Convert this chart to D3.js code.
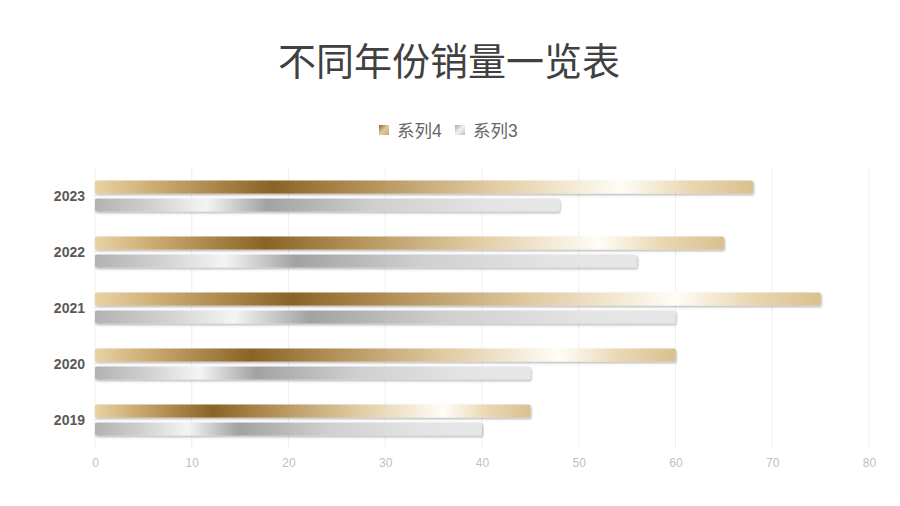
<!DOCTYPE html>
<html><head><meta charset="utf-8">
<script src="https://cdn.jsdelivr.net/npm/d3@7"></script>
<style>html,body{margin:0;padding:0;background:#fff;}svg{display:block;}</style>
</head><body>
<svg id="c" width="900" height="506"></svg>
<script>
const title = "不同年份销量一览表";
const categories = ["2023","2022","2021","2020","2019"];
const seriesNames = ["系列4","系列3"];
const series4 = [68,65,75,60,45];
const series3 = [48,56,60,45,40];
const xTicks = [0,10,20,30,40,50,60,70,80];

const font = "'Liberation Sans','Noto Sans CJK SC',sans-serif";
const svg = d3.select("#c");
const defs = svg.append("defs");

function grad(id, stops, x2, y2){
  const g = defs.append("linearGradient").attr("id", id)
    .attr("x1","0").attr("y1","0").attr("x2", x2||"1").attr("y2", y2||"0");
  stops.forEach(s => g.append("stop").attr("offset", s[0]).attr("stop-color", s[1]));
}
const goldStops = [[0,"#e9d2a3"],[0.1,"#c9a86f"],[0.27,"#8a6326"],[0.4,"#b08d55"],[0.6,"#e0caa0"],[0.8,"#fffdf7"],[0.9,"#ead8b4"],[1,"#d9c08e"]];
const silverStops = [[0,"#b2b2b2"],[0.12,"#d0d0d0"],[0.24,"#f4f4f4"],[0.37,"#a2a2a2"],[0.6,"#cfcfcf"],[0.85,"#e4e4e4"],[1,"#e6e6e6"]];
grad("gold", goldStops);
grad("silver", silverStops);
grad("goldL", [[0,"#8a6326"],[0.5,"#e0c99b"],[1,"#c8a86f"]], "1", "1");
grad("silverL", [[0,"#a5a5a5"],[0.5,"#f2f2f2"],[1,"#bdbdbd"]], "1", "1");

const f = defs.append("filter").attr("id","sh").attr("x","-5%").attr("y","-50%").attr("width","110%").attr("height","200%");
f.append("feDropShadow").attr("dx",1).attr("dy",1.5).attr("stdDeviation",0.8).attr("flood-color","#000").attr("flood-opacity",0.3);

const x = d3.scaleLinear().domain([0,80]).range([95,869]);
const y = d3.scaleBand().domain(categories).range([168,448]).padding(0);
const yInner = d3.scaleBand().domain(seriesNames).range([12.5,43.5]).paddingInner(0.28);

// title
svg.append("text").attr("x",449).attr("y",58).attr("text-anchor","middle")
  .attr("dominant-baseline","central").attr("font-family","'Noto Sans CJK SC',sans-serif").attr("font-size",38)
  .attr("fill","#404040").text(title);

// legend
const legend = [{n:seriesNames[0], f:"url(#goldL)", x:379},{n:seriesNames[1], f:"url(#silverL)", x:455}];
legend.forEach(l=>{
  svg.append("rect").attr("x",l.x).attr("y",125).attr("width",10).attr("height",10).attr("fill",l.f);
  svg.append("text").attr("x",l.x+18).attr("y",131).attr("dominant-baseline","central")
    .attr("font-family",font).attr("font-size",17.5).attr("fill","#666").text(l.n);
});

// grid
svg.append("g").selectAll("line").data(xTicks).join("line")
  .attr("x1",d=>x(d)).attr("x2",d=>x(d)).attr("y1",168).attr("y2",448)
  .attr("stroke","#efefef").attr("stroke-width",1);

// x axis labels
const xa = svg.append("g").attr("transform","translate(0,448)")
  .call(d3.axisBottom(x).tickValues(xTicks).tickSize(0).tickPadding(10));
xa.select(".domain").remove();
xa.selectAll("text").attr("font-family",font).attr("font-size",12).attr("fill","#bfbfbf");

// y axis labels
const ya = svg.append("g").attr("transform","translate(95,0)")
  .call(d3.axisLeft(y).tickSize(0).tickPadding(10));
ya.select(".domain").remove();
ya.selectAll("text").attr("font-family",font).attr("font-size",14).attr("font-weight","bold").attr("fill","#595959").attr("dy","0.35em");

// bars
const rows = categories.map((c,i)=>({c, vals:[{s:seriesNames[0], v:series4[i], f:"url(#gold)"},{s:seriesNames[1], v:series3[i], f:"url(#silver)"}]}));
const gRow = svg.append("g").selectAll("g").data(rows).join("g")
  .attr("transform",d=>`translate(0,${y(d.c)})`);
gRow.selectAll("rect").data(d=>d.vals).join("rect")
  .attr("x",x(0)).attr("y",d=>yInner(d.s))
  .attr("width",d=>x(d.v)-x(0)).attr("height",yInner.bandwidth())
  .attr("rx",1.5).attr("fill",d=>d.f).attr("filter","url(#sh)");
</script>
</body></html>
